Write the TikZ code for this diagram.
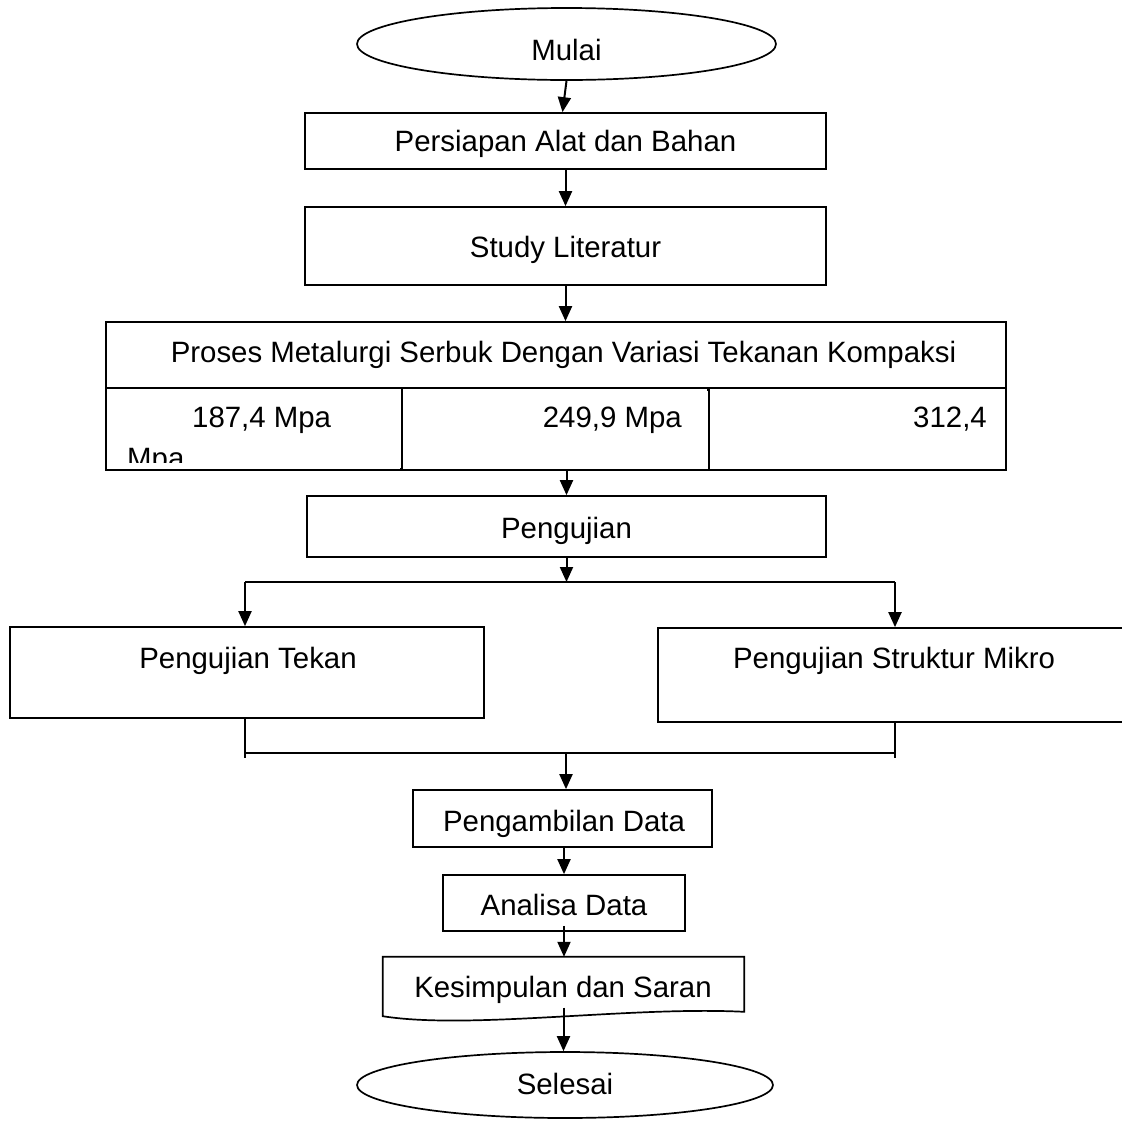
\documentclass[tikz,border=0pt]{standalone}
\usepackage{fontspec}
\setmainfont{Liberation Sans}
\usetikzlibrary{arrows.meta,shapes.geometric}
\begin{document}
\begin{tikzpicture}[x=1pt,y=-1pt,
  box/.style={draw, line width=1.7pt, inner sep=0pt},
  hid/.style={inner sep=0pt},
  term/.style={draw, ellipse, line width=1.7pt, inner sep=0pt},
  lbl/.style={anchor=base, inner sep=0pt, font=\fontsize{29.4pt}{35pt}\selectfont},
  arr/.style={line width=2pt, -{Triangle[length=15pt,width=13pt]}},
  ln/.style={line width=1.7pt}]
\useasboundingbox (0,0) rectangle (1122,1120);
\fill[white] (0,0) rectangle (1122,1120);

% terminals
\node[term, minimum width=419pt, minimum height=72pt] (start) at (566.5,44) {};
\node[term, minimum width=416pt, minimum height=66pt] (stop) at (565,1085) {};

% process boxes
\node[box, minimum width=521pt, minimum height=56pt] (persiapan) at (565.5,141) {};
\node[box, minimum width=521pt, minimum height=78pt] (study) at (565.5,246) {};
\node[box, minimum width=900pt, minimum height=66pt] (proses) at (556,355) {};
\node[box, minimum width=296pt, minimum height=82pt] (c1) at (254,429) {};
\node[box, minimum width=307pt, minimum height=82pt] (c2) at (555.5,429) {};
\node[box, minimum width=297pt, minimum height=82pt] (c3) at (857.5,429) {};
\node[box, minimum width=519pt, minimum height=61pt] (uji) at (566.5,526.5) {};
\node[box, minimum width=474pt, minimum height=91pt] (tekan) at (247,672.5) {};
\node[box, minimum width=472pt, minimum height=94pt] (mikro) at (894,675) {};
\node[box, minimum width=299pt, minimum height=57pt] (ambil) at (562.5,818.5) {};
\node[box, minimum width=242pt, minimum height=56pt] (analisa) at (564,903) {};
\node[hid, minimum width=361pt, minimum height=61pt] (kes) at (563.5,987.5) {};
\draw[ln] (kes.south west) ++(0,-2) -- (kes.north west) -- (kes.north east) -- ++(0,55)
  .. controls (630,1006) and (470,1030) .. ([yshift=2pt]kes.south west) -- cycle;

% labels
\node[lbl] (tStart) at (566.5,60) {Mulai};
\node[lbl] (tPers) at (565.5,151) {Persiapan Alat dan Bahan};
\node[lbl] (tStudy) at (565.5,257) {Study Literatur};
\node[lbl] (tProses) at (563.5,362) {Proses Metalurgi Serbuk Dengan Variasi Tekanan Kompaksi};
\node[lbl, anchor=base west] (tA) at (192,427) {187,4 Mpa};
\begin{scope}
  \clip (c1.north west) rectangle (400,462);
  \node[lbl, anchor=base west] (tA2) at (127,468) {Mpa};
\end{scope}
\node[lbl, anchor=base east] (tB) at (682,427) {249,9 Mpa};
\node[lbl, anchor=base east] (tC) at (987,427) {312,4};
\node[lbl] (tUji) at (566.5,538) {Pengujian};
\node[lbl] (tTekan) at (248,668) {Pengujian Tekan};
\node[lbl] (tMikro) at (894,668) {Pengujian Struktur Mikro};
\node[lbl] (tAmbil) at (564,831) {Pengambilan Data};
\node[lbl] (tAnalisa) at (564,915) {Analisa Data};
\node[lbl] (tKes) at (563,997) {Kesimpulan dan Saran};
\node[lbl] (tStop) at (565,1094) {Selesai};

% stub of the second cell divider above the row line
\draw[ln] (c3.north west) -- ++(0,4);
\draw[ln] (c2.south west) -- ++(0,-3);

% connectors
\coordinate (sL) at (245,582);
\coordinate (sR) at (895,582);
\coordinate (mL) at (245,753);
\coordinate (mR) at (895,753);
\coordinate (mC) at (566,753);

\draw[arr] (start.south) -- ([xshift=-3pt]persiapan.north);
\draw[arr] (persiapan.south) -- (study.north);
\draw[arr] (study.south) -- (study.south |- proses.north);
\draw[arr] (uji.north |- c2.south) -- (uji.north);
\draw[arr] (uji.south) -- (uji.south |- sL);
\draw[ln] (sL) -- (sR);
\draw[arr] (sL) -- (sL |- tekan.north);
\draw[arr] (sR) -- (sR |- mikro.north);
\draw[ln] (sL |- tekan.south) -- ([yshift=-5pt]mL);
\draw[ln] (sR |- mikro.south) -- ([yshift=-5pt]mR);
\draw[ln] (mL) -- (mR);
\draw[arr] (mC) -- (mC |- ambil.north);
\draw[arr] (ambil.south -| analisa.north) -- (analisa.north);
\draw[arr] ([yshift=6pt]analisa.south) -- (analisa.south |- kes.north);
\draw[arr] ([yshift=-20pt]kes.center) -- (kes.center |- stop.north);
\end{tikzpicture}
\end{document}
